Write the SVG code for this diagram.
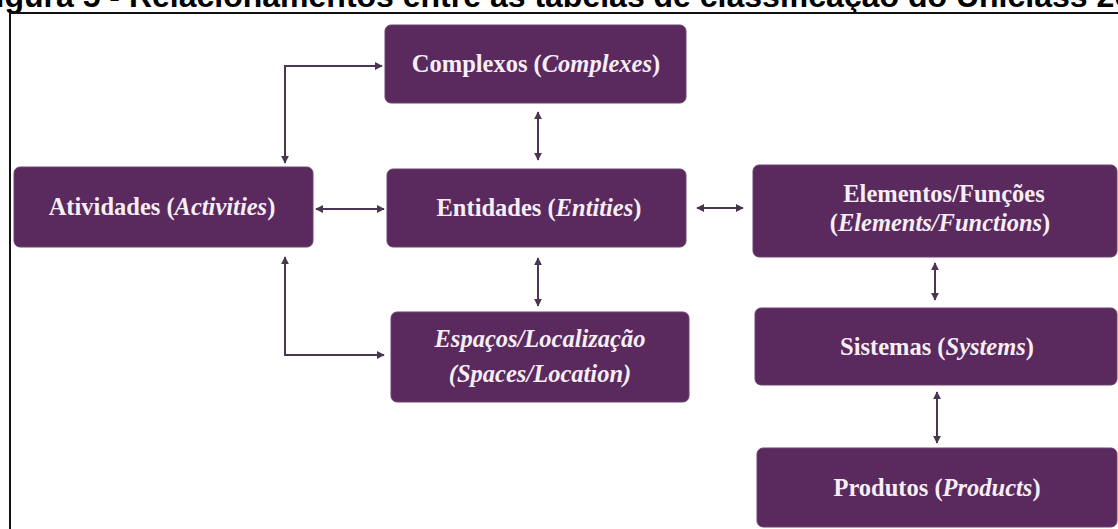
<svg xmlns="http://www.w3.org/2000/svg" width="1118" height="529" viewBox="0 0 1118 529">
  <style>
    .title { font-family: "Liberation Sans", Arial, sans-serif; font-weight: bold; font-size: 32px; fill: #000; }
    .frame { fill: none; stroke: #111; stroke-width: 2; }
    .box { fill: #5a295d; stroke: #6d4470; stroke-width: 1; }
    .label { font-family: "Liberation Serif", "Times New Roman", serif; font-weight: bold; font-size: 24.5px; fill: #f6eef6; text-anchor: middle; }
    .it { font-style: italic; }
    .link { fill: none; stroke: #4a3650; stroke-width: 2; }
  </style>
  <defs>
    <marker id="head" viewBox="0 0 10 10" refX="9" refY="5" markerWidth="4" markerHeight="4" orient="auto-start-reverse" markerUnits="strokeWidth">
      <path d="M0,0 L10,5 L0,10 Z" fill="#4a3650"/>
    </marker>
  </defs>

  <rect width="1118" height="529" fill="#ffffff"/>

  <!-- caption (clipped by the top edge) -->
  <text class="title" x="-24" y="7">Figura 5 - Relacionamentos entre as tabelas de classificação do Uniclass 2015</text>

  <!-- figure frame: left and top rules -->
  <path class="frame" d="M10,529 L10,13 L1118,13"/>

  <!-- connectors -->
  <g id="connectors">
    <path class="link" d="M285,163 L285,66 L382,66" marker-start="url(#head)" marker-end="url(#head)"/>
    <path class="link" d="M316,209 L384,209" marker-start="url(#head)" marker-end="url(#head)"/>
    <path class="link" d="M538,112 L538,160" marker-start="url(#head)" marker-end="url(#head)"/>
    <path class="link" d="M538,258 L538,306" marker-start="url(#head)" marker-end="url(#head)"/>
    <path class="link" d="M285,257 L285,355 L384,355" marker-start="url(#head)" marker-end="url(#head)"/>
    <path class="link" d="M697,208 L743,208" marker-start="url(#head)" marker-end="url(#head)"/>
    <path class="link" d="M935,263 L935,300" marker-start="url(#head)" marker-end="url(#head)"/>
    <path class="link" d="M937,392 L937,443" marker-start="url(#head)" marker-end="url(#head)"/>
  </g>

  <!-- nodes -->
  <g id="complexos">
    <rect class="box" x="385" y="25" width="301" height="78" rx="6"/>
    <text class="label" x="536" y="72">Complexos (<tspan class="it">Complexes</tspan>)</text>
  </g>
  <g id="atividades">
    <rect class="box" x="14" y="167" width="299" height="80" rx="6"/>
    <text class="label" x="162" y="215">Atividades (<tspan class="it">Activities</tspan>)</text>
  </g>
  <g id="entidades">
    <rect class="box" x="387" y="169" width="299" height="78" rx="6"/>
    <text class="label" x="539" y="216">Entidades (<tspan class="it">Entities</tspan>)</text>
  </g>
  <g id="elementos">
    <rect class="box" x="753" y="165" width="364" height="92" rx="6"/>
    <text class="label" x="944" y="202">Elementos/Funções</text>
    <text class="label" x="940" y="231">(<tspan class="it">Elements/Functions</tspan>)</text>
  </g>
  <g id="espacos">
    <rect class="box" x="391" y="312" width="298" height="90" rx="6"/>
    <text class="label it" x="540" y="347">Espaços/Localização</text>
    <text class="label it" x="540" y="382">(Spaces/Location)</text>
  </g>
  <g id="sistemas">
    <rect class="box" x="755" y="308" width="362" height="77" rx="6"/>
    <text class="label" x="937" y="355">Sistemas (<tspan class="it">Systems</tspan>)</text>
  </g>
  <g id="produtos">
    <rect class="box" x="757" y="448" width="360" height="79" rx="6"/>
    <text class="label" x="937" y="496">Produtos (<tspan class="it">Products</tspan>)</text>
  </g>
</svg>
